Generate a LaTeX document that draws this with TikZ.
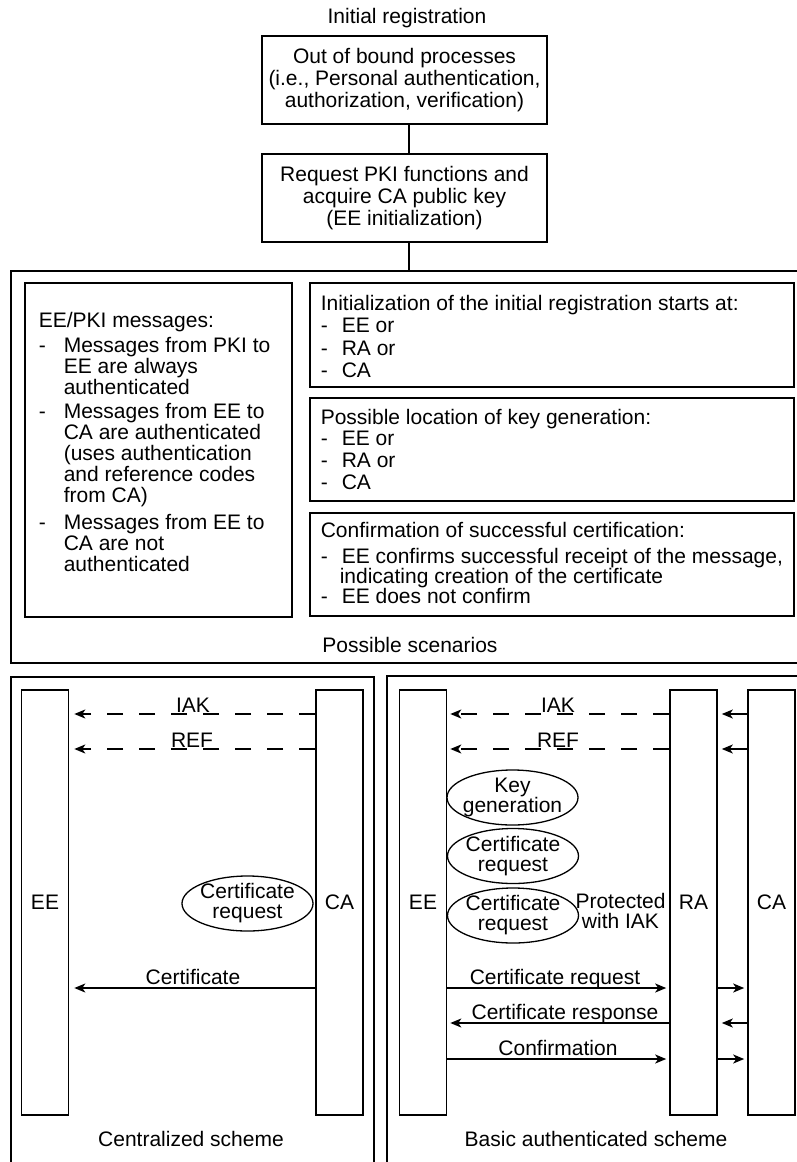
\documentclass[tikz,border=0pt]{standalone}
\usepackage{fontspec}
\setmainfont{Liberation Sans}
\usetikzlibrary{arrows.meta,shapes.geometric}
\begin{document}
\begin{tikzpicture}[x=1pt,y=-1pt,
  line width=1.6pt,
  txt/.style={font=\fontsize{21}{22}\selectfont, inner sep=0pt},
  topbox/.style={draw, txt, align=center, minimum width=285pt, minimum height=88pt},
  infobox/.style={draw, minimum width=484pt, inner sep=0pt},
  life/.style={draw, txt, minimum width=47pt, minimum height=425pt},
  oval/.style={draw, ellipse, minimum width=131pt, minimum height=55pt, inner sep=0pt, line width=1.3pt},
  ovaltext/.style={txt, align=center, font=\fontsize{21}{20}\selectfont},
  msg/.style={-{Stealth[length=11pt,width=9pt,inset=3pt]}, line width=1.6pt},
  dmsg/.style={msg, dash pattern=on 16pt off 16pt},
  lbl/.style={txt, anchor=base}
]
\useasboundingbox (0,0) rectangle (797,1162);

% ---- initial registration chain ----
\node[lbl] (title) at (407,23) {Initial registration};
\node[topbox] (b1) at (404.5,80) {Out of bound processes\\(i.e., Personal authentication,\\authorization, verification)};
\node[topbox] (b2) at (404.5,198) {Request PKI functions and\\acquire CA public key\\(EE initialization)};
\coordinate (ftop) at (409,271);
\draw ([xshift=4.5pt]b1.south) -- ([xshift=4.5pt]b2.north);
\draw ([xshift=4.5pt]b2.south) -- (ftop);

% ---- possible scenarios frame ----
\draw (799,271) -- (11,271) -- (11,663) -- (799,663);
\node[lbl] (scen) at (410,652) {Possible scenarios};

\node[draw, minimum width=267pt, minimum height=334pt, inner sep=0pt] (lbox) at (158.5,450) {};
\node[txt, anchor=base west] (ltext) at (38,327) {\parbox[t]{250pt}{\raggedright\fontsize{21}{21}\selectfont
EE/PKI messages:\\[4pt]
\makebox[25pt][l]{-}Messages from PKI to\\
\hspace*{25pt}EE are always\\
\hspace*{25pt}authenticated\\[3pt]
\makebox[25pt][l]{-}Messages from EE to\\
\hspace*{25pt}CA are authenticated\\
\hspace*{25pt}(uses authentication\\
\hspace*{25pt}and reference codes\\
\hspace*{25pt}from CA)\\[6pt]
\makebox[25pt][l]{-}Messages from EE to\\
\hspace*{25pt}CA are not\\
\hspace*{25pt}authenticated}};

\node[infobox, minimum height=104pt] (ra) at (552,335) {};
\node[txt, anchor=base west] (ratext) at (320,310) {\parbox[t]{470pt}{\raggedright\fontsize{21}{22.5}\selectfont
Initialization of the initial registration starts at:\\
\makebox[21pt][l]{-}EE or\\
\makebox[21pt][l]{-}RA or\\
\makebox[21pt][l]{-}CA}};

\node[infobox, minimum height=103pt] (rb) at (552,449.5) {};
\node[txt, anchor=base west] (rbtext) at (320,424) {\parbox[t]{470pt}{\raggedright\fontsize{21}{21.7}\selectfont
Possible location of key generation:\\
\makebox[21pt][l]{-}EE or\\
\makebox[21pt][l]{-}RA or\\
\makebox[21pt][l]{-}CA}};

\node[infobox, minimum height=103pt] (rc) at (552,564.5) {};
\node[txt, anchor=base west] (rctext) at (320,537) {\parbox[t]{470pt}{\raggedright\fontsize{21}{20}\selectfont
Confirmation of successful certification:\\[6pt]
\makebox[21pt][l]{-}EE confirms successful receipt of the message,\\
\hspace*{19pt}indicating creation of the certificate\\
\makebox[21pt][l]{-}EE does not confirm}};

% ---- message levels ----
\coordinate (yIAK) at (0,714);
\coordinate (yREF) at (0,749);
\coordinate (yReq) at (0,988);
\coordinate (yResp) at (0,1023);
\coordinate (yConf) at (0,1059);

% ---- centralized scheme ----
\draw (11,1164) -- (11,677) -- (374,677) -- (374,1164);
\node[life] (eeL) at (45,902.5) {EE};
\node[life] (caL) at (339.5,902.5) {CA};
\draw[dmsg, shorten >=5pt] (caL.west |- yIAK) -- (eeL.east |- yIAK);
\draw[dmsg, shorten >=5pt] (caL.west |- yREF) -- (eeL.east |- yREF);
\node[lbl] (iakL) at (193,712) {IAK};
\node[lbl] (refL) at (192,747) {REF};
\node[oval] (crL) at (247.5,903.5) {};
\node[ovaltext] (crLt) at (crL) {Certificate\\request};
\draw[msg, shorten >=5pt] (caL.west |- yReq) -- (eeL.east |- yReq);
\node[lbl] (certL) at (193,984) {Certificate};
\node[lbl] (centr) at (191,1146) {Centralized scheme};

% ---- basic authenticated scheme ----
\draw (387,1164) -- (387,676) -- (799,676);
\node[life] (eeR) at (423,902.5) {EE};
\node[life] (raR) at (693.5,902.5) {RA};
\node[life] (caR) at (771.5,902.5) {CA};
\draw[dmsg, shorten >=3pt] (raR.west |- yIAK) -- (eeR.east |- yIAK);
\draw[dmsg, shorten >=3pt] (raR.west |- yREF) -- (eeR.east |- yREF);
\draw[msg, shorten >=4pt] (caR.west |- yIAK) -- (raR.east |- yIAK);
\draw[msg, shorten >=4pt] (caR.west |- yREF) -- (raR.east |- yREF);
\node[lbl] (iakR) at (558,712) {IAK};
\node[lbl] (refR) at (558,747) {REF};

\node[oval] (kg) at (512.5,797.5) {};
\node[ovaltext] (kgt) at (kg) {Key\\generation};
\node[oval] (cr1) at (513,856) {};
\node[ovaltext] (cr1t) at (cr1) {Certificate\\request};
\node[oval] (cr2) at (513,915.5) {};
\node[ovaltext] (cr2t) at (cr2) {Certificate\\request};
\node[ovaltext] (prot) at (620.5,911) {Protected\\with IAK};

\draw[msg, shorten >=3pt] (eeR.east |- yReq) -- (raR.west |- yReq);
\draw[msg, shorten >=3pt] (raR.east |- yReq) -- (caR.west |- yReq);
\node[lbl] (reqR) at (555,984) {Certificate request};
\draw[msg, shorten >=3pt] (raR.west |- yResp) -- (eeR.east |- yResp);
\draw[msg, shorten >=4pt] (caR.west |- yResp) -- (raR.east |- yResp);
\node[lbl] (respR) at (565,1019) {Certificate response};
\draw[msg, shorten >=3pt] (eeR.east |- yConf) -- (raR.west |- yConf);
\draw[msg, shorten >=3pt] (raR.east |- yConf) -- (caR.west |- yConf);
\node[lbl] (confR) at (558,1055) {Confirmation};
\node[lbl] (basic) at (596,1146) {Basic authenticated scheme};
\end{tikzpicture}
\end{document}
